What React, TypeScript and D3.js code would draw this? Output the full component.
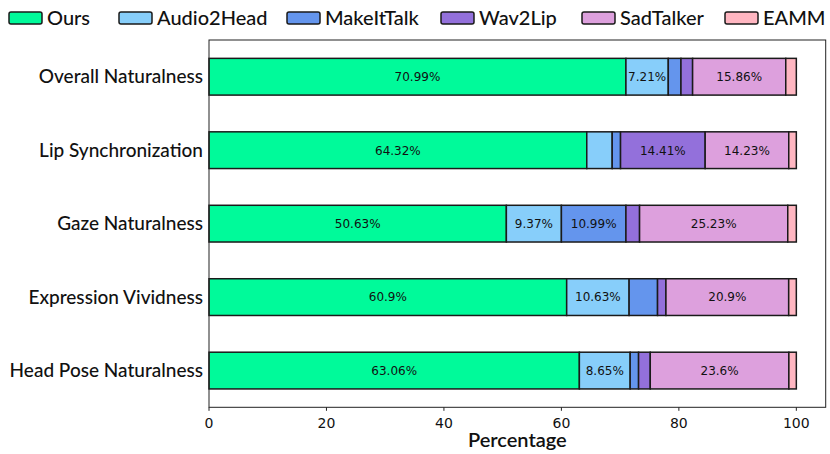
import React, { useEffect, useRef } from 'react';
import * as d3 from 'd3';

const categories = [
  'Overall Naturalness',
  'Lip Synchronization',
  'Gaze Naturalness',
  'Expression Vividness',
  'Head Pose Naturalness',
];

const methods = ['Ours', 'Audio2Head', 'MakeItTalk', 'Wav2Lip', 'SadTalker', 'EAMM'];
const colors = ['#00FA9A', '#87CEFA', '#6495ED', '#9370DB', '#DDA0DD', '#FFB6C1'];

// one array per method, ordered like categories
const ours = [70.99, 64.32, 50.63, 60.9, 63.06];
const audio2head = [7.21, 4.33, 9.37, 10.63, 8.65];
const makeittalk = [2.16, 1.42, 10.99, 4.84, 1.43];
const wav2lip = [1.98, 14.41, 2.32, 1.43, 1.99];
const sadtalker = [15.86, 14.23, 25.23, 20.9, 23.6];
const eamm = [1.8, 1.29, 1.46, 1.3, 1.27];

const xTicks = [0, 20, 40, 60, 80, 100];

const App = () => {
  const ref = useRef<SVGSVGElement>(null);

  useEffect(() => {
    document.body.style.margin = '0';
    draw();
  }, []);

  const draw = () => {
    const width = 830;
    const height = 454;
    const left = 209, right = 825.7, top = 40, bottom = 407.3;
    const labelFont = 'Lato, "Noto Sans", sans-serif';
    const numFont = '"DejaVu Sans", sans-serif';

    const svg = d3.select(ref.current)
      .attr('width', width)
      .attr('height', height)
      .style('display', 'block')
      .style('background', 'white');
    svg.selectAll('*').remove();

    const series = [ours, audio2head, makeittalk, wav2lip, sadtalker, eamm];

    const x = d3.scaleLinear().domain([0, 105]).range([left, right]);
    const y = d3.scaleBand<string>()
      .domain(categories)
      .range([top, bottom])
      .paddingInner(0.5)
      .paddingOuter(0.25);

    // stack the segments
    const rows = categories.map((c, i) => {
      const r: any = { category: c };
      methods.forEach((m, j) => { r[m] = series[j][i]; });
      return r;
    });
    const stacked = d3.stack().keys(methods)(rows);

    // bars
    const g = svg.append('g');
    stacked.forEach((layer, j) => {
      g.append('g')
        .selectAll('rect')
        .data(layer)
        .join('rect')
        .attr('x', (d: any) => x(d[0]))
        .attr('y', (d: any) => y(d.data.category)!)
        .attr('width', (d: any) => x(d[1]) - x(d[0]))
        .attr('height', y.bandwidth())
        .attr('fill', colors[j])
        .attr('stroke', '#1a1a1a')
        .attr('stroke-width', 1.5);
    });

    // percentage labels
    stacked.forEach((layer) => {
      g.append('g')
        .selectAll('text')
        .data(layer.filter((d: any) => d[1] - d[0] > 5))
        .join('text')
        .attr('x', (d: any) => x((d[0] + d[1]) / 2))
        .attr('y', (d: any) => y(d.data.category)! + y.bandwidth() / 2)
        .attr('dy', '0.36em')
        .attr('text-anchor', 'middle')
        .attr('font-family', numFont)
        .attr('font-size', 12)
        .attr('fill', '#111')
        .text((d: any) => `${+(d[1] - d[0]).toFixed(2)}%`);
    });

    // frame
    svg.append('rect')
      .attr('x', left)
      .attr('y', top)
      .attr('width', right - left)
      .attr('height', bottom - top)
      .attr('fill', 'none')
      .attr('stroke', '#222')
      .attr('stroke-width', 1);

    // x axis
    const ax = svg.append('g');
    ax.selectAll('line')
      .data(xTicks)
      .join('line')
      .attr('x1', d => x(d))
      .attr('x2', d => x(d))
      .attr('y1', bottom)
      .attr('y2', bottom + 3.5)
      .attr('stroke', '#222');
    ax.selectAll('text')
      .data(xTicks)
      .join('text')
      .attr('x', d => x(d))
      .attr('y', 428)
      .attr('text-anchor', 'middle')
      .attr('font-family', numFont)
      .attr('font-size', 14)
      .attr('fill', '#111')
      .text(d => d);

    svg.append('text')
      .attr('x', (left + right) / 2)
      .attr('y', 447)
      .attr('text-anchor', 'middle')
      .attr('font-family', labelFont)
      .attr('font-size', 20)
      .attr('font-weight', 600)
      .attr('fill', '#111')
      .text('Percentage');

    // y labels
    svg.append('g')
      .selectAll('text')
      .data(categories)
      .join('text')
      .attr('x', 203)
      .attr('y', d => y(d)! + y.bandwidth() / 2)
      .attr('dy', '0.35em')
      .attr('text-anchor', 'end')
      .attr('font-family', labelFont)
      .attr('font-size', 19)
      .attr('font-weight', 500)
      .attr('fill', '#111')
      .text(d => d);

    // legend
    const legendX = [9, 119, 287, 441, 582, 725];
    const lg = svg.append('g')
      .selectAll('g')
      .data(methods)
      .join('g')
      .attr('transform', (d, i) => `translate(${legendX[i]},12)`);
    lg.append('rect')
      .attr('width', 33)
      .attr('height', 12)
      .attr('rx', 2)
      .attr('fill', (d, i) => colors[i])
      .attr('stroke', '#1a1a1a')
      .attr('stroke-width', 1.5);
    lg.append('text')
      .attr('x', 38)
      .attr('y', 13)
      .attr('font-family', labelFont)
      .attr('font-size', 20)
      .attr('font-weight', 500)
      .attr('fill', '#111')
      .text(d => d);
  };

  return <svg ref={ref}></svg>;
};

export default App;
